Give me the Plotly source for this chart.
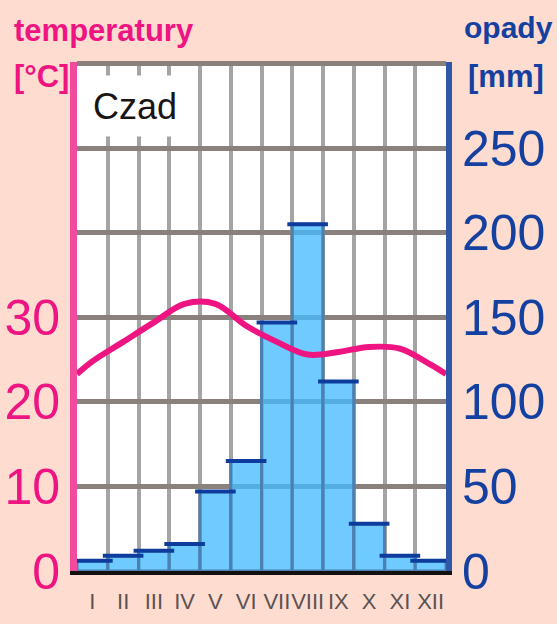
import plotly.graph_objects as go

months = ["I", "II", "III", "IV", "V", "VI", "VII", "VIII", "IX", "X", "XI", "XII"]
precip_mm = [6, 9, 12, 16, 47, 65, 147, 205, 112, 28, 9, 6]
temp_c = [24.8, 27.1, 29.4, 31.6, 31.6, 29.0, 27.1, 25.6, 25.9, 26.5, 26.3, 24.4]
temp_edge = 23.3  # value of the curve where it meets the frame (Dec/Jan wrap)
mm_ticks = [0, 50, 100, 150, 200, 250, 300]
mm_labels = ["0", "50", "100", "150", "200", "250", ""]
c_ticks = [0, 10, 20, 30]
station = "Czad"

FONT = "Liberation Sans, Arial, sans-serif"
PINK = "#EE1482"
BLUE = "#1440A0"

x_idx = list(range(len(months)))
line_x = [-0.5] + x_idx + [len(months) - 0.5]
line_y = [temp_edge] + temp_c + [temp_edge]

fig = go.Figure()
fig.add_trace(go.Bar(
    x=x_idx, y=precip_mm, width=1.0, yaxis="y",
    marker=dict(color="rgba(71,187,255,0.78)",
                line=dict(color="#4C80B0", width=3)),
    hoverinfo="skip", showlegend=False,
))
fig.add_trace(go.Scatter(
    x=x_idx, y=precip_mm, yaxis="y", mode="markers",
    marker=dict(symbol="line-ew", size=29, color="#0E3C9C",
                line=dict(color="#0E3C9C", width=4)),
    hoverinfo="skip", showlegend=False,
))
fig.add_trace(go.Scatter(
    x=line_x, y=line_y, yaxis="y2", mode="lines",
    line=dict(color=PINK, width=6, shape="spline", smoothing=1.0),
    hoverinfo="skip", showlegend=False,
))

W, H = 557, 624
L, R, T, B = 77, 446, 62, 571
pw, ph = R - L, B - T


def px(xp):
    return (xp - L) / pw


def py(yp):
    return (B - yp) / ph


fig.update_layout(
    width=W, height=H,
    margin=dict(l=L, r=W - R, t=T, b=H - B, pad=0, autoexpand=False),
    paper_bgcolor="#FFDCD0",
    plot_bgcolor="#FFFFFF",
    bargap=0,
    xaxis=dict(
        range=[-0.5, len(months) - 0.5], automargin=False,
        tickmode="array", tickvals=x_idx, ticktext=months, tickangle=0,
        tickfont=dict(family=FONT, size=22, color="#5A5252"),
        ticklabelstandoff=8,
        showgrid=False, zeroline=False,
        showline=True, linecolor="#141010", linewidth=4,
        ticks="", fixedrange=True,
        minor=dict(tickmode="linear", tick0=0.5, dtick=1, showgrid=True,
                   gridcolor="#A4A4A4", gridwidth=4, ticks=""),
    ),
    yaxis=dict(
        side="right", range=[0, 301], automargin=False,
        tickmode="array", tickvals=mm_ticks, ticktext=mm_labels,
        tickfont=dict(family=FONT, size=50, color=BLUE),
        showgrid=True, gridcolor="#8A807C", gridwidth=5,
        zeroline=False, showline=True, linecolor="#2F58A8", linewidth=6,
        ticks="", fixedrange=True,
    ),
    yaxis2=dict(
        overlaying="y", side="left", range=[0, 60.2], automargin=False,
        tickmode="array", tickvals=c_ticks,
        tickfont=dict(family=FONT, size=50, color=PINK),
        showgrid=False, zeroline=False,
        showline=True, linecolor="#F24A9C", linewidth=7,
        ticks="", fixedrange=True,
    ),
    annotations=[
        dict(text="<b>temperatury</b>", xref="paper", yref="paper",
             x=px(12), y=py(30), xanchor="left", yanchor="middle",
             showarrow=False, font=dict(family=FONT, size=31, color=PINK)),
        dict(text="<b>[°C]</b>", xref="paper", yref="paper",
             x=px(12), y=py(76), xanchor="left", yanchor="middle",
             showarrow=False, font=dict(family=FONT, size=31, color=PINK)),
        dict(text="<b>opady</b>", xref="paper", yref="paper",
             x=px(462), y=py(28), xanchor="left", yanchor="middle",
             showarrow=False, font=dict(family=FONT, size=30, color=BLUE)),
        dict(text="<b>[mm]</b>", xref="paper", yref="paper",
             x=px(466), y=py(77), xanchor="left", yanchor="middle",
             showarrow=False, font=dict(family=FONT, size=31, color=BLUE)),
        dict(text=station, xref="paper", yref="paper",
             x=px(78), y=py(75), xanchor="left", yanchor="top",
             width=112, height=60, bgcolor="#FFFFFF", borderpad=0,
             showarrow=False, font=dict(family=FONT, size=36, color="#1A1414")),
    ],
)

fig.write_html("out.html",
               config={"displayModeBar": False, "staticPlot": True},
               post_script="document.body.style.margin='0';"
                           "document.body.style.overflow='hidden';")
